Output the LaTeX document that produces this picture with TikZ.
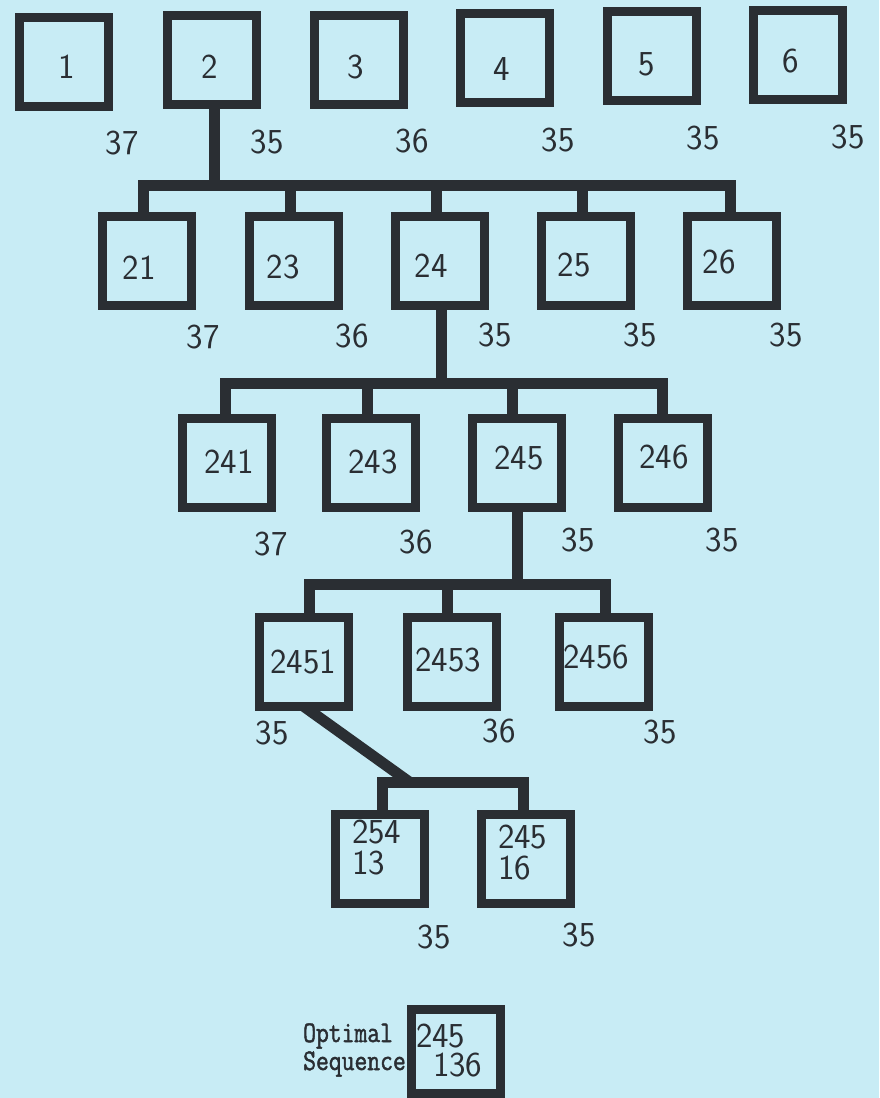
\documentclass[tikz,border=0pt]{standalone}
\usepackage{fontspec}
\newfontfamily\typewriter[FakeBold=1.5,FakeStretch=0.83]{Latin Modern Mono}
\newcommand\digitfont{\sffamily\fontsize{35}{31}\selectfont}
\definecolor{ink}{RGB}{42,46,51}
\definecolor{paper}{RGB}{200,236,245}

\begin{document}
\begin{tikzpicture}[x=1pt,y=-1pt,
  box/.style={draw=ink, line width=9pt, minimum width=89pt, minimum height=89pt,
              inner sep=0pt, outer sep=0pt},
  wire/.style={draw=ink, line width=11pt, line join=miter},
  num/.style={font=\digitfont, text=ink, inner sep=0pt, outer sep=0pt},
  pair/.style={num, align=left, anchor=west},
  tw/.style={font=\typewriter\fontsize{30}{28}\selectfont, text=ink, inner sep=0pt,
             align=left, anchor=west}]

\fill[paper] (0,0) rectangle (879,1098);
\useasboundingbox (0,0) rectangle (879,1098);

% first level
\node[box] (b1) at (63.5,62) {};
\node[box] (b2) at (211.5,60) {};
\node[box] (b3) at (359,59.5) {};
\node[box] (b4) at (504.5,57.5) {};
\node[box] (b5) at (651.5,56) {};
\node[box] (b6) at (798,55) {};
\node[num] (t1) at (67,67) {1};
\node[num] (t2) at (210,67) {2};
\node[num] (t3) at (356,67) {3};
\node[num] (t4) at (502,69) {4};
\node[num] (t5) at (647,64) {5};
\node[num] (t6) at (791,61) {6};
\node[num] (c1) at (122,143) {37};
\node[num] (c2) at (267,142) {35};
\node[num] (c3) at (412,141) {36};
\node[num] (c4) at (558,140) {35};
\node[num] (c5) at (703,138) {35};
\node[num] (c6) at (848,137) {35};

% second level
\node[box] (b21) at (146.5,261) {};
\node[box] (b23) at (293.5,261) {};
\node[box] (b24) at (439.5,261) {};
\node[box] (b25) at (585.5,261) {};
\node[box] (b26) at (732,261) {};
\node[num] (t21) at (139,268) {21};
\node[num] (t23) at (283,267) {23};
\node[num] (t24) at (431,266) {24};
\node[num] (t25) at (574,265) {25};
\node[num] (t26) at (719,262) {26};
\node[num] (c21) at (203,337) {37};
\node[num] (c23) at (352,336) {36};
\node[num] (c24) at (495,335) {35};
\node[num] (c25) at (640,335) {35};
\node[num] (c26) at (786,335) {35};

% third level
\node[box] (b241) at (226.5,463) {};
\node[box] (b243) at (370.5,463) {};
\node[box] (b245) at (517,463) {};
\node[box] (b246) at (663,463) {};
\node[num] (t241) at (229,462) {241};
\node[num] (t243) at (373,462) {243};
\node[num] (t245) at (519,458) {245};
\node[num] (t246) at (664,457) {246};
\node[num] (c241) at (271,544) {37};
\node[num] (c243) at (416,542) {36};
\node[num] (c245) at (578,540) {35};
\node[num] (c246) at (722,540) {35};

% fourth level
\node[box] (b2451) at (304,662) {};
\node[box] (b2453) at (451.5,662) {};
\node[box] (b2456) at (603.5,662) {};
\node[num] (t2451) at (303,662) {2451};
\node[num] (t2453) at (448,660) {2453};
\node[num] (t2456) at (596,657) {2456};
\node[num] (c2451) at (272,733) {35};
\node[num] (c2453) at (499,731) {36};
\node[num] (c2456) at (660,732) {35};

% fifth level
\node[box] (b25413) at (379.5,858.5) {};
\node[box] (b24516) at (526,858.5) {};
\node[pair] (t25413) at (352,847.5) {254\\13};
\node[pair] (t24516) at (498,852.5) {245\\16};
\node[num] (c25413) at (434,937) {35};
\node[num] (c24516) at (579,935) {35};

% result
\node[box, minimum height=84pt] (bopt) at (455.5,1051) {};
\node[pair] (topt) at (416,1050.5) {245\\[-2pt]\hspace*{17pt}136};
\node[tw] (lab) at (303,1050) {Optimal\\Sequence};

% bus lines
\coordinate (bus1) at (0,185.5);
\coordinate (bus2) at (0,383);
\coordinate (bus3) at (0,584.5);
\coordinate (bus4) at (0,782.5);

\coordinate (f2) at ([xshift=2.5pt]b2.south);
\coordinate (d21) at ([xshift=-3.5pt]b21.north);
\coordinate (d23) at ([xshift=-3.5pt]b23.north);
\coordinate (d24) at ([xshift=-3.5pt]b24.north);
\coordinate (d25) at ([xshift=-3.5pt]b25.north);
\coordinate (d26) at ([xshift=-2pt]b26.north);
\draw[wire] (d21) |- (d26 |- bus1) -- (d26);
\draw[wire] (f2) -- (f2 |- bus1);
\draw[wire] (d23) -- (d23 |- bus1);
\draw[wire] (d24) -- (d24 |- bus1);
\draw[wire] (d25) -- (d25 |- bus1);

\coordinate (f24) at ([xshift=1.5pt]b24.south);
\coordinate (d241) at ([xshift=-1.5pt]b241.north);
\coordinate (d243) at ([xshift=-3.5pt]b243.north);
\coordinate (d245) at ([xshift=-5pt]b245.north);
\coordinate (d246) at ([xshift=-1pt]b246.north);
\draw[wire] (d241) |- (d246 |- bus2) -- (d246);
\draw[wire] (f24) -- (f24 |- bus2);
\draw[wire] (d243) -- (d243 |- bus2);
\draw[wire] (d245) -- (d245 |- bus2);

\coordinate (f245) at (b245.south);
\coordinate (d2451) at ([xshift=5pt]b2451.north);
\coordinate (d2453) at ([xshift=-4.5pt]b2453.north);
\coordinate (d2456) at ([xshift=1.5pt]b2456.north);
\draw[wire] (d2451) |- (d2456 |- bus3) -- (d2456);
\draw[wire] (f245) -- (f245 |- bus3);
\draw[wire] (d2453) -- (d2453 |- bus3);

\coordinate (d25413) at ([xshift=2.5pt]b25413.north);
\coordinate (d24516) at ([xshift=-3pt]b24516.north);
\coordinate (j4) at (410,782.5);
\draw[wire] (d25413) |- (d24516 |- bus4) -- (d24516);
\draw[wire] (b2451.south) -- (j4);

\end{tikzpicture}
\end{document}
